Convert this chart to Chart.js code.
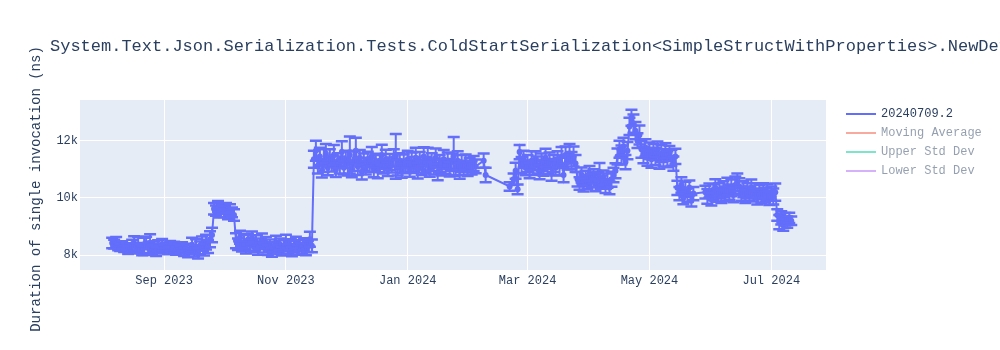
<!DOCTYPE html>
<html>
<head>
<meta charset="utf-8">
<script src="https://cdn.jsdelivr.net/npm/chart.js@4.4.1/dist/chart.umd.min.js"></script>
<style>
  body { margin: 0; background: #fff; }
  canvas { display: block; }
</style>
</head>
<body>
<canvas id="chart" width="1000" height="350"></canvas>
<script>
// Benchmark run dates, per month
const dates = [
  // Aug 2023
  '2023-08-06','2023-08-07','2023-08-08','2023-08-09','2023-08-10','2023-08-11','2023-08-12','2023-08-13','2023-08-14','2023-08-15',
  '2023-08-16','2023-08-17','2023-08-18','2023-08-19','2023-08-20','2023-08-21','2023-08-22','2023-08-23','2023-08-24','2023-08-25',
  '2023-08-26','2023-08-27','2023-08-28','2023-08-29','2023-08-30','2023-08-31',
  // Sep 2023
  '2023-09-01','2023-09-02','2023-09-03','2023-09-04','2023-09-05','2023-09-06','2023-09-07','2023-09-08','2023-09-09','2023-09-10',
  '2023-09-11','2023-09-12','2023-09-13','2023-09-14','2023-09-15','2023-09-16','2023-09-17','2023-09-18','2023-09-19','2023-09-20',
  '2023-09-21','2023-09-22','2023-09-23','2023-09-24','2023-09-25','2023-09-26','2023-09-27','2023-09-28','2023-09-29','2023-09-30',
  // Oct 2023
  '2023-10-01','2023-10-02','2023-10-03','2023-10-04','2023-10-05','2023-10-06','2023-10-07','2023-10-08','2023-10-09','2023-10-10',
  '2023-10-11','2023-10-12','2023-10-13','2023-10-14','2023-10-15','2023-10-16','2023-10-17','2023-10-18','2023-10-19','2023-10-20',
  '2023-10-21','2023-10-22','2023-10-23','2023-10-24','2023-10-25','2023-10-26','2023-10-27','2023-10-28','2023-10-29','2023-10-30',
  '2023-10-31',
  // Nov 2023
  '2023-11-01','2023-11-02','2023-11-03','2023-11-04','2023-11-05','2023-11-06','2023-11-07','2023-11-08','2023-11-09','2023-11-10',
  '2023-11-11','2023-11-12','2023-11-13','2023-11-14','2023-11-15','2023-11-16','2023-11-17','2023-11-18','2023-11-19','2023-11-20',
  '2023-11-21','2023-11-22','2023-11-23','2023-11-24','2023-11-25','2023-11-26','2023-11-27','2023-11-28','2023-11-29','2023-11-30',
  // Dec 2023
  '2023-12-01','2023-12-02','2023-12-03','2023-12-04','2023-12-05','2023-12-06','2023-12-07','2023-12-08','2023-12-09','2023-12-10',
  '2023-12-11','2023-12-12','2023-12-13','2023-12-14','2023-12-15','2023-12-16','2023-12-17','2023-12-18','2023-12-19','2023-12-20',
  '2023-12-21','2023-12-22','2023-12-23','2023-12-24','2023-12-25','2023-12-26','2023-12-27','2023-12-28','2023-12-29','2023-12-30',
  '2023-12-31',
  // Jan 2024
  '2024-01-01','2024-01-02','2024-01-03','2024-01-04','2024-01-05','2024-01-06','2024-01-07','2024-01-08','2024-01-09','2024-01-10',
  '2024-01-11','2024-01-12','2024-01-13','2024-01-14','2024-01-15','2024-01-16','2024-01-17','2024-01-18','2024-01-19','2024-01-20',
  '2024-01-21','2024-01-22','2024-01-23','2024-01-24','2024-01-25','2024-01-26','2024-01-27','2024-01-28','2024-01-29','2024-01-30',
  '2024-01-31',
  // Feb 2024
  '2024-02-01','2024-02-02','2024-02-03','2024-02-04','2024-02-08','2024-02-09','2024-02-21','2024-02-23','2024-02-24','2024-02-25',
  '2024-02-26','2024-02-27','2024-02-28','2024-02-29',
  // Mar 2024
  '2024-03-01','2024-03-02','2024-03-03','2024-03-04','2024-03-05','2024-03-06','2024-03-07','2024-03-08','2024-03-09','2024-03-10',
  '2024-03-11','2024-03-12','2024-03-13','2024-03-14','2024-03-15','2024-03-16','2024-03-17','2024-03-18','2024-03-19','2024-03-20',
  '2024-03-21','2024-03-22','2024-03-23','2024-03-24','2024-03-25','2024-03-26','2024-03-27','2024-03-28','2024-03-29','2024-03-30',
  '2024-03-31',
  // Apr 2024
  '2024-04-01','2024-04-02','2024-04-03','2024-04-04','2024-04-05','2024-04-06','2024-04-07','2024-04-08','2024-04-09','2024-04-10',
  '2024-04-11','2024-04-12','2024-04-13','2024-04-14','2024-04-15','2024-04-16','2024-04-17','2024-04-18','2024-04-19','2024-04-20',
  '2024-04-21','2024-04-22','2024-04-23','2024-04-24','2024-04-25','2024-04-26','2024-04-27','2024-04-28','2024-04-29','2024-04-30',
  // May 2024
  '2024-05-01','2024-05-02','2024-05-03','2024-05-04','2024-05-05','2024-05-06','2024-05-07','2024-05-08','2024-05-09','2024-05-10',
  '2024-05-11','2024-05-12','2024-05-13','2024-05-14','2024-05-15','2024-05-16','2024-05-17','2024-05-18','2024-05-19','2024-05-20',
  '2024-05-21','2024-05-22','2024-05-23','2024-05-29','2024-05-30','2024-05-31',
  // Jun 2024
  '2024-06-01','2024-06-02','2024-06-03','2024-06-04','2024-06-05','2024-06-06','2024-06-07','2024-06-08','2024-06-09','2024-06-10',
  '2024-06-11','2024-06-12','2024-06-13','2024-06-14','2024-06-15','2024-06-16','2024-06-17','2024-06-18','2024-06-19','2024-06-20',
  '2024-06-21','2024-06-22','2024-06-23','2024-06-24','2024-06-25','2024-06-26','2024-06-27','2024-06-28','2024-06-29','2024-06-30',
  // Jul 2024
  '2024-07-01','2024-07-02','2024-07-03','2024-07-04','2024-07-05','2024-07-06','2024-07-07','2024-07-08','2024-07-09','2024-07-10',
  '2024-07-11'
];

// Mean duration (ns)
const durations = [
  // Aug
  8420,8380,8470,8310,8260,8350,8220,8290,8180,8240,8330,8410,8270,8360,8220,8150,8300,8420,8250,8380,8190,8280,8120,8330,8240,8350,
  // Sep
  8200,8290,8160,8320,8230,8270,8150,8260,8190,8300,8110,8220,8080,8200,8360,8150,8290,8060,8250,8400,8180,8450,8300,8550,8700,9620,9550,9700,9480,9600,
  // Oct
  9520,9650,9430,9580,9490,9400,8500,8380,8620,8300,8450,8220,8540,8350,8600,8280,8480,8170,8390,8520,8260,8430,8180,8350,8090,8280,8450,8200,8380,8130,8320,
  // Nov
  8480,8210,8360,8120,8290,8420,8180,8330,8230,8380,8150,8300,8550,8320,11350,11650,11100,11450,10950,11300,11550,11050,11400,11200,11500,10980,11300,11150,11600,11050,
  // Dec
  11350,11200,11500,11000,11300,11650,11100,11400,10900,11250,11050,11350,11150,11450,11000,11300,10950,11200,11500,11100,11350,11000,11250,11150,11400,11450,11050,11300,10950,11200,11100,
  // Jan
  11350,11000,11250,11150,11400,10950,11300,11050,11450,11150,11350,11000,11250,11100,11400,10900,11200,11050,11350,11100,11300,11000,11250,11450,11050,11300,10950,11200,11050,11250,11000,
  // Feb
  11150,11050,11200,11100,11300,10800,10400,10650,10950,10300,11600,11150,11350,11050,
  // Mar
  11200,10950,11300,11050,11350,11150,10900,11250,11050,11400,11100,11300,10850,11200,11050,11350,11100,11450,10800,11500,11250,11550,11300,11450,11200,10650,10500,10800,10450,10700,10550,
  // Apr
  10850,10600,10750,10450,10650,10900,10550,10700,10400,10600,10350,10650,10800,10950,11450,11700,11500,11800,11250,11650,12500,12800,12600,12350,12000,12200,11700,11500,11750,11400,
  // May
  11650,11350,11600,11450,11700,11300,11550,11400,11650,11350,11550,11400,11200,11450,10350,10150,10450,10000,10300,10100,10350,9900,10150,10200,10050,10250,
  // Jun
  9950,10200,10350,10100,10250,10050,10300,10150,10400,10200,10350,10100,10450,10550,10400,10150,10300,10050,10250,10150,10350,10100,10250,10000,10200,10050,10250,10100,10200,10000,
  // Jul
  10150,10050,10200,9400,9150,9300,9050,9250,9150,9300,9200
];

// Standard error of each run (ns)
const errors = [
  // Aug
  180,150,160,140,120,130,110,120,140,160,200,250,150,280,170,160,300,220,180,350,170,200,150,190,160,210,
  // Sep
  150,140,130,170,160,190,140,130,120,150,140,170,160,130,240,200,260,180,220,250,200,260,230,280,250,200,180,190,170,160,
  // Oct
  190,170,180,200,170,200,260,200,230,180,250,170,200,190,220,180,210,160,190,230,170,200,180,190,150,170,220,160,200,150,200,
  // Nov
  230,170,190,160,200,220,170,190,180,210,160,190,260,220,300,350,250,300,240,400,330,260,300,280,350,250,260,300,380,230,
  // Dec
  300,420,650,280,350,450,300,270,260,300,230,260,250,330,280,240,260,300,360,250,330,240,280,260,300,780,270,260,250,320,240,
  // Jan
  300,260,340,280,350,270,300,250,320,290,400,260,310,280,330,280,300,270,320,260,290,250,300,680,260,330,280,300,250,270,240,
  // Feb
  250,230,260,240,250,250,150,200,280,170,250,280,300,260,
  // Mar
  300,260,330,250,280,300,250,300,280,320,260,290,250,300,270,280,300,330,250,300,260,330,300,350,300,250,220,260,230,250,240,
  // Apr
  260,230,250,220,260,320,230,260,230,250,220,260,250,260,280,300,330,300,250,300,300,280,320,300,260,330,300,290,300,280,
  // May
  290,300,280,300,270,280,300,300,260,280,260,280,250,270,250,230,270,220,260,240,260,200,230,220,260,250,
  // Jun
  220,280,300,240,260,230,280,250,300,270,290,250,300,300,290,250,280,230,260,250,290,230,260,230,250,240,260,250,280,250,
  // Jul
  250,280,300,200,250,230,200,220,200,180,150
];

// Axis ticks
const xTickDates = ['2023-09-01', '2023-11-01', '2024-01-01', '2024-03-01', '2024-05-01', '2024-07-01'];
const xTickLabels = ['Sep 2023', 'Nov 2023', 'Jan 2024', 'Mar 2024', 'May 2024', 'Jul 2024'];
const yTicks = [8000, 10000, 12000];

const legendNames = ['20240709.2', 'Moving Average', 'Upper Std Dev', 'Lower Std Dev'];
const legendColors = ['#636efa', 'rgba(239,85,59,0.5)', 'rgba(0,204,150,0.5)', 'rgba(171,99,250,0.5)'];
const legendTextColors = ['#2a3f5f', 'rgba(42,63,95,0.5)', 'rgba(42,63,95,0.5)', 'rgba(42,63,95,0.5)'];

const titleText = 'System.Text.Json.Serialization.Tests.ColdStartSerialization<SimpleStructWithProperties>.NewDefaultOptions';
const yTitleText = 'Duration of single invocation (ns)';

const FONT = '"Courier New", "Liberation Mono", monospace';
const BASE = Date.parse('2023-08-01');
const toDay = s => (Date.parse(s) - BASE) / 864e5;

const points = dates.map((d, i) => ({ x: toDay(d), y: durations[i], err: errors[i] }));

Chart.defaults.font.family = FONT;
Chart.defaults.font.size = 12;
Chart.defaults.color = '#2a3f5f';

// plot background
const plotBg = {
  id: 'plotBg',
  beforeDraw(chart) {
    const { ctx, chartArea: a } = chart;
    ctx.save();
    ctx.fillStyle = '#e5ecf6';
    ctx.fillRect(a.left, a.top, a.right - a.left, a.bottom - a.top);
    ctx.restore();
  }
};

// vertical error bars with caps
const errorBars = {
  id: 'errorBars',
  afterDatasetsDraw(chart) {
    const { ctx, chartArea: a, scales } = chart;
    const xs = scales.x, ys = scales.y;
    ctx.save();
    ctx.beginPath();
    ctx.rect(a.left, a.top, a.right - a.left, a.bottom - a.top);
    ctx.clip();
    ctx.strokeStyle = '#636efa';
    points.forEach(p => {
      const x = xs.getPixelForValue(p.x);
      const y1 = ys.getPixelForValue(p.y + p.err);
      const y2 = ys.getPixelForValue(p.y - p.err);
      ctx.lineWidth = 2;
      ctx.beginPath();
      ctx.moveTo(x, y1); ctx.lineTo(x, y2);
      ctx.stroke();
      ctx.lineWidth = 2.5;
      ctx.beginPath();
      ctx.moveTo(x - 6, y1); ctx.lineTo(x + 6, y1);
      ctx.moveTo(x - 6, y2); ctx.lineTo(x + 6, y2);
      ctx.stroke();
    });
    ctx.restore();
  }
};

// title, y title and legend
const texts = {
  id: 'texts',
  afterDraw(chart) {
    const { ctx, chartArea: a } = chart;
    ctx.save();
    ctx.fillStyle = '#2a3f5f';
    ctx.font = '17px ' + FONT;
    ctx.textBaseline = 'middle';
    ctx.textAlign = 'left';
    ctx.fillText(titleText, 50, 46);

    ctx.save();
    ctx.translate(36, (a.top + a.bottom) / 2 + 4);
    ctx.rotate(-Math.PI / 2);
    ctx.textAlign = 'center';
    ctx.font = '14px ' + FONT;
    ctx.fillText(yTitleText, 0, 0);
    ctx.restore();

    ctx.font = '12px ' + FONT;
    legendNames.forEach((name, i) => {
      const y = 114 + i * 19;
      ctx.strokeStyle = legendColors[i];
      ctx.lineWidth = 2;
      ctx.beginPath();
      ctx.moveTo(846, y); ctx.lineTo(876, y);
      ctx.stroke();
      ctx.fillStyle = legendTextColors[i];
      ctx.fillText(name, 881, y);
    });
    ctx.restore();
  }
};

new Chart(document.getElementById('chart'), {
  type: 'line',
  data: {
    datasets: [{
      label: legendNames[0],
      data: points,
      borderColor: '#636efa',
      backgroundColor: '#636efa',
      borderWidth: 2,
      pointRadius: 3,
      pointBorderWidth: 0,
      tension: 0
    }]
  },
  options: {
    responsive: false,
    animation: false,
    layout: { padding: { left: 0, top: 100, right: 174, bottom: 50 } },
    plugins: { legend: { display: false }, tooltip: { enabled: false } },
    scales: {
      x: {
        type: 'linear',
        min: -11.1,
        max: 362.4,
        afterBuildTicks: axis => { axis.ticks = xTickDates.map(d => ({ value: toDay(d) })); },
        afterFit: axis => { axis.height = 30; },
        ticks: {
          autoSkip: false,
          maxRotation: 0,
          padding: 4,
          callback: (v, i) => xTickLabels[i]
        },
        grid: { color: '#ffffff', lineWidth: 1, drawTicks: false },
        border: { display: false }
      },
      y: {
        min: 7476,
        max: 13423,
        afterBuildTicks: axis => { axis.ticks = yTicks.map(v => ({ value: v })); },
        afterFit: axis => { axis.width = 80; },
        ticks: {
          padding: 2,
          callback: v => (v / 1000) + 'k'
        },
        grid: { color: '#ffffff', lineWidth: 1, drawTicks: false },
        border: { display: false }
      }
    }
  },
  plugins: [plotBg, errorBars, texts]
});
</script>
</body>
</html>
